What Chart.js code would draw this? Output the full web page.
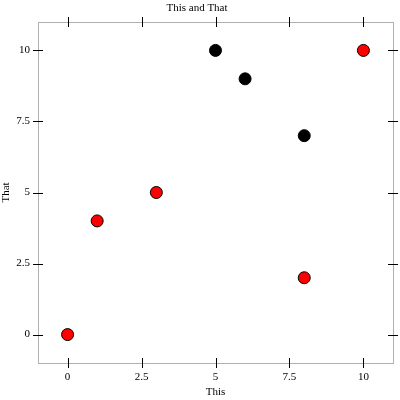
<!DOCTYPE html>
<html lang="en">
<head>
  <meta charset="UTF-8">
  <title>This and That</title>
  <script src="https://cdn.jsdelivr.net/npm/chart.js"></script>
  <style>
    html, body { margin: 0; padding: 0; background: #ffffff; }
    #wrap { width: 400px; height: 400px; }
  </style>
</head>
<body>
<div id="wrap"><canvas id="chart" width="400" height="400"></canvas></div>
<script>
  // data
  const redX = [0, 1, 3, 8, 10];
  const redY = [0, 4, 5, 2, 10];
  const blackX = [5, 6, 8];
  const blackY = [10, 9, 7];
  const xTicks = [0, 2.5, 5, 7.5, 10];
  const yTicks = [0, 2.5, 5, 7.5, 10];

  const serif = '"Liberation Serif", "DejaVu Serif", serif';
  Chart.defaults.color = '#000';
  Chart.defaults.font.family = serif;
  Chart.defaults.font.size = 11;

  const toPoints = (xs, ys) => xs.map((x, i) => ({ x: x, y: ys[i] }));

  // gray box with black ticks crossing it on all four sides
  const framePlugin = {
    id: 'frame',
    beforeDatasetsDraw(chart) {
      const { ctx, chartArea: a, scales } = chart;
      ctx.save();
      ctx.strokeStyle = '#b0b0b0';
      ctx.lineWidth = 1;
      ctx.strokeRect(Math.round(a.left) + 0.5, Math.round(a.top) + 0.5,
        Math.round(a.right - a.left), Math.round(a.bottom - a.top));
      ctx.strokeStyle = '#000';
      ctx.beginPath();
      xTicks.forEach(v => {
        const px = Math.round(scales.x.getPixelForValue(v)) + 0.5;
        ctx.moveTo(px, a.top - 5); ctx.lineTo(px, a.top + 5);
        ctx.moveTo(px, a.bottom - 5); ctx.lineTo(px, a.bottom + 5);
      });
      yTicks.forEach(v => {
        const py = Math.round(scales.y.getPixelForValue(v)) + 0.5;
        ctx.moveTo(a.left - 5, py); ctx.lineTo(a.left + 5, py);
        ctx.moveTo(a.right - 5, py); ctx.lineTo(a.right + 5, py);
      });
      ctx.stroke();
      ctx.restore();
    }
  };

  new Chart(document.getElementById('chart'), {
    type: 'scatter',
    data: {
      datasets: [
        {
          data: toPoints(redX, redY),
          backgroundColor: '#ff0000',
          borderColor: '#000',
          borderWidth: 1,
          pointRadius: 6
        },
        {
          data: toPoints(blackX, blackY),
          backgroundColor: '#000',
          borderColor: '#000',
          borderWidth: 1,
          pointRadius: 6
        }
      ]
    },
    options: {
      responsive: false,
      animation: false,
      layout: { padding: { top: 0, right: 6, bottom: 0, left: 0 } },
      plugins: {
        legend: { display: false },
        tooltip: { enabled: false },
        title: {
          display: true,
          text: 'This and That',
          color: '#000',
          font: { family: serif, size: 11, weight: 'normal' },
          padding: { top: 1.5, bottom: 7.3 }
        }
      },
      scales: {
        x: {
          type: 'linear',
          min: -1,
          max: 11,
          border: { display: false },
          grid: { display: false, drawTicks: false },
          afterBuildTicks: s => { s.ticks = xTicks.map(v => ({ value: v })); },
          afterFit: s => { s.height = 37; },
          ticks: { padding: 8, maxRotation: 0, font: { size: 11 } },
          title: { display: true, text: 'This', font: { size: 11 }, padding: { top: 0, bottom: 1 } }
        },
        y: {
          type: 'linear',
          min: -1,
          max: 11,
          border: { display: false },
          grid: { display: false, drawTicks: false },
          afterBuildTicks: s => { s.ticks = yTicks.map(v => ({ value: v })); },
          afterFit: s => { s.width = 38; },
          ticks: { padding: 8, font: { size: 11 } },
          title: { display: true, text: 'That', font: { size: 11 }, padding: { top: 0, bottom: 0 } }
        }
      }
    },
    plugins: [framePlugin]
  });
</script>
</body>
</html>
